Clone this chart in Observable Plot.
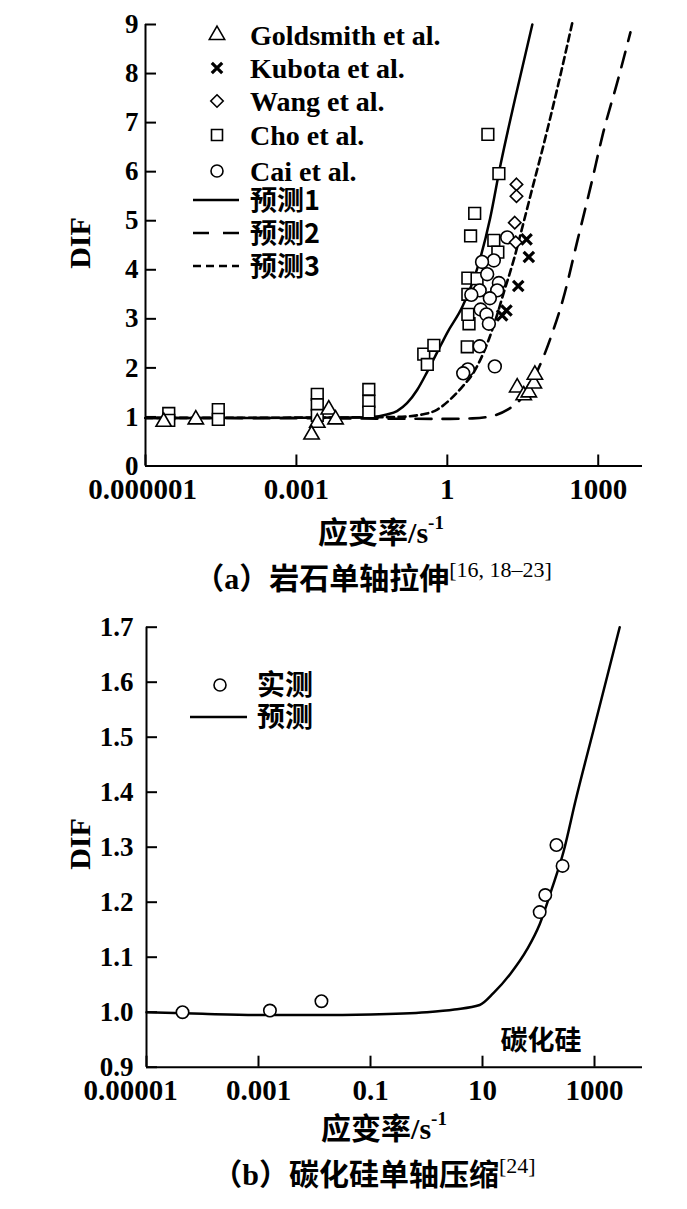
<!DOCTYPE html>
<html><head><meta charset="utf-8">
<script src="https://cdn.jsdelivr.net/npm/d3@7"></script>
<script src="https://cdn.jsdelivr.net/npm/@observablehq/plot@0.6"></script>
<style>
body{margin:0;background:#fff;}
#root{position:relative;width:687px;height:1209px;overflow:hidden;font-family:"Liberation Serif","Noto Sans CJK SC",serif;font-weight:bold;color:#000;background:#fff;}
.abs{position:absolute;white-space:nowrap;line-height:1;transform:translate(-50%,-50%);}
.cjk{font-family:"Noto Sans CJK SC","Liberation Serif",serif;}
sup{font-size:19px;position:relative;top:-2px;vertical-align:top;}
svg{display:block;}
</style></head><body><div id="root"></div>
<script>
// ---------------- Panel (a) data: rock uniaxial tension ----------------
const goldsmithRate = [2.3e-6, 1.0e-5, 2.6e-3, 2.0e-3, 4.4e-3, 6.0e-3, 24.5, 33, 41.7, 52.5, 55];
const goldsmithDIF  = [0.90, 0.95, 0.88, 0.64, 1.15, 0.95, 1.60, 1.44, 1.50, 1.68, 1.86];
const kubotaRate = [37.6, 41.7, 25.7, 15.0, 12.3];
const kubotaDIF  = [4.62, 4.26, 3.67, 3.17, 3.07];
const wangRate = [23.7, 23.7, 21.9, 22.9];
const wangDIF  = [5.74, 5.50, 4.96, 4.56];
const choRate = [2.9e-6, 2.9e-6, 2.8e-5, 2.8e-5, 2.6e-3, 2.6e-3, 2.6e-3, 0.0275, 0.0275, 0.0275, 0.34, 0.40, 0.54, 2.49, 2.7, 2.56, 2.56, 2.56, 3.9, 2.9, 3.5, 6.4, 8.4, 10.1, 10.6];
const choDIF  = [1.07, 0.93, 1.15, 0.95, 1.46, 1.25, 1.03, 1.56, 1.32, 1.10, 2.28, 2.07, 2.46, 2.43, 2.90, 3.09, 3.50, 3.83, 3.82, 4.69, 5.15, 6.76, 4.60, 4.36, 5.96];
const caiRate = [15.5, 8.4, 4.9, 6.2, 10.6, 4.4, 3.0, 9.8, 7.0, 4.6, 6.0, 6.7, 4.4, 2.56, 2.07, 8.8];
const caiDIF  = [4.66, 4.19, 4.16, 3.91, 3.73, 3.58, 3.49, 3.58, 3.42, 3.19, 3.09, 2.90, 2.44, 1.97, 1.89, 2.03];

const pred1Rate = [1e-6, 1e-4, 0.01, 0.0316, 0.063, 0.1, 0.158, 0.251, 0.398, 0.631, 1, 2, 4, 7.1, 11.2, 22.4, 49];
const pred1DIF  = [0.98, 0.98, 0.99, 1.0, 1.05, 1.12, 1.28, 1.55, 1.92, 2.32, 2.72, 3.25, 4.05, 5.05, 6.1, 7.5, 9.0];
const pred2Rate = [1e-6, 0.01, 1, 3.16, 7.9, 15.8, 28.2, 50.1, 81.3, 126, 200, 389, 708, 1259, 2512, 4365];
const pred2DIF  = [0.98, 0.97, 0.96, 0.97, 1.02, 1.15, 1.35, 1.75, 2.22, 2.75, 3.4, 4.61, 5.7, 6.8, 7.9, 8.84];
const pred3Rate = [1e-6, 0.01, 0.1, 0.316, 0.631, 1.12, 2.0, 3.3, 6.3, 9.1, 13.2, 20.9, 33.1, 50.1, 77.6, 158, 309];
const pred3DIF  = [0.98, 0.99, 1.0, 1.05, 1.15, 1.35, 1.62, 1.9, 2.51, 2.98, 3.53, 4.2, 4.98, 5.7, 6.45, 7.75, 9.06];

const xTicksA = [1e-6, 1e-3, 1, 1000];
const xTickLabelsA = ["0.000001", "0.001", "1", "1000"];
const yTicksA = [0, 1, 2, 3, 4, 5, 6, 7, 8, 9];
const yTickLabelsA = ["0", "1", "2", "3", "4", "5", "6", "7", "8", "9"];

// ---------------- Panel (b) data: SiC uniaxial compression ----------------
const measRate = [4.4e-5, 1.6e-3, 0.0133, 105, 132, 209, 269];
const measDIF  = [1.0, 1.003, 1.02, 1.182, 1.213, 1.304, 1.266];
const predBRate = [1e-5, 1e-4, 1e-3, 0.01, 0.1, 1, 3.16, 8.9, 15.8, 31.6, 63.1, 105, 174, 282, 457, 1000, 1778, 2818];
const predBDIF  = [1.0, 0.997, 0.995, 0.995, 0.996, 1.0, 1.005, 1.013, 1.035, 1.07, 1.115, 1.16, 1.225, 1.293, 1.384, 1.52, 1.62, 1.70];

const xTicksB = [1e-5, 1e-3, 0.1, 10, 1000];
const xTickLabelsB = ["0.00001", "0.001", "0.1", "10", "1000"];
const yTicksB = [0.9, 1.0, 1.1, 1.2, 1.3, 1.4, 1.5, 1.6, 1.7];
const yTickLabelsB = ["0.9", "1.0", "1.1", "1.2", "1.3", "1.4", "1.5", "1.6", "1.7"];

const FONT = '"Liberation Serif","Noto Sans CJK SC",serif';
const zip = (xs, ys) => xs.map((x, i) => ({x, y: ys[i]}));
const root = document.getElementById("root");

function frameMarks(o) {
  const innerW = o.width - o.marginLeft - o.marginRight;
  const innerH = o.height - o.marginTop - o.marginBottom;
  const xfmt = d => o.xLabels[o.xTicks.findIndex(t => Math.abs(t - d) / t < 1e-6)];
  const yfmt = d => o.yLabels[o.yTicks.findIndex(t => Math.abs(t - d) < 1e-6)];
  return [
    Plot.ruleY([o.yDomain[0]], {strokeWidth: 2}),
    Plot.ruleX([o.xDomain[0]], {strokeWidth: 2}),
    Plot.tickX(o.xTicks, {x: d => d, insetTop: innerH - 11, strokeWidth: 2}),
    Plot.tickY(o.yTicks, {y: d => d, insetRight: innerW - 11, strokeWidth: 2}),
    Plot.axisX({ticks: o.xTicks.slice(0, 1), tickSize: 0, tickPadding: 12, label: null, fontSize: 29, dx: o.firstDx, tickFormat: xfmt}),
    Plot.axisX({ticks: o.xTicks.slice(1), tickSize: 0, tickPadding: 12, label: null, fontSize: 29, tickFormat: xfmt}),
    Plot.axisY({ticks: o.yTicks, tickSize: 0, tickPadding: o.yPad, label: null, fontSize: 27, tickFormat: yfmt})
  ];
}

// ---------------- Panel (a) ----------------
const optA = {width: 687, height: 600, marginLeft: 145, marginRight: 45, marginTop: 24, marginBottom: 134.5,
  xDomain: [1e-6, Math.pow(10, 3.88)], yDomain: [0, 9], xTicks: xTicksA, yTicks: yTicksA,
  xLabels: xTickLabelsA, yLabels: yTickLabelsA, firstDx: -3, yPad: 7};
const mk = {fill: "white", stroke: "black", strokeWidth: 1.6};
const plotA = Plot.plot({
  width: optA.width, height: optA.height,
  marginLeft: optA.marginLeft, marginRight: optA.marginRight, marginTop: optA.marginTop, marginBottom: optA.marginBottom,
  x: {type: "log", domain: optA.xDomain},
  y: {domain: optA.yDomain},
  style: {fontFamily: FONT, fontWeight: "bold", color: "black", background: "transparent", overflow: "visible"},
  marks: [
    ...frameMarks(optA),
    Plot.line(zip(pred1Rate, pred1DIF), {x: "x", y: "y", curve: "monotone-x", strokeWidth: 2.5}),
    Plot.line(zip(pred2Rate, pred2DIF), {x: "x", y: "y", curve: "monotone-x", strokeWidth: 2.6, strokeDasharray: "16,11"}),
    Plot.line(zip(pred3Rate, pred3DIF), {x: "x", y: "y", curve: "monotone-x", strokeWidth: 2.6, strokeDasharray: "7,4.5"}),
    Plot.dot(zip(choRate, choDIF), {x: "x", y: "y", symbol: "square", r: 6.6, ...mk}),
    Plot.dot(zip(caiRate, caiDIF), {x: "x", y: "y", symbol: "circle", r: 6.4, ...mk}),
    Plot.dot(zip(goldsmithRate, goldsmithDIF), {x: "x", y: "y", symbol: "triangle", r: 5.7, ...mk}),
    Plot.dot(zip(wangRate, wangDIF), {x: "x", y: "y", symbol: "diamond2", r: 5.6, ...mk}),
    Plot.dot(zip(kubotaRate, kubotaDIF), {x: "x", y: "y", symbol: "times", r: 4.8, stroke: "black", strokeWidth: 3.2})
  ]
});
plotA.style.position = "absolute"; plotA.style.left = "0px"; plotA.style.top = "0px";
root.appendChild(plotA);

// ---------------- Panel (b) ----------------
const optB = {width: 687, height: 609, marginLeft: 146, marginRight: 45, marginTop: 26.7, marginBottom: 142.3,
  xDomain: [1e-5, Math.pow(10, 3.857)], yDomain: [0.9, 1.7], xTicks: xTicksB, yTicks: yTicksB,
  xLabels: xTickLabelsB, yLabels: yTickLabelsB, firstDx: -16, yPad: 13};
const plotB = Plot.plot({
  width: optB.width, height: optB.height,
  marginLeft: optB.marginLeft, marginRight: optB.marginRight, marginTop: optB.marginTop, marginBottom: optB.marginBottom,
  x: {type: "log", domain: optB.xDomain},
  y: {domain: optB.yDomain},
  style: {fontFamily: FONT, fontWeight: "bold", color: "black", background: "transparent", overflow: "visible"},
  marks: [
    ...frameMarks(optB),
    Plot.line(zip(predBRate, predBDIF), {x: "x", y: "y", curve: "monotone-x", strokeWidth: 2.5}),
    Plot.dot(zip(measRate, measDIF), {x: "x", y: "y", symbol: "circle", r: 6.2, ...mk})
  ]
});
plotB.style.position = "absolute"; plotB.style.left = "0px"; plotB.style.top = "600px";
root.appendChild(plotB);

// ---------------- Texts ----------------
function label(html, x, y, css = "") {
  const d = document.createElement("div");
  d.className = "abs"; d.innerHTML = html;
  d.style.left = x + "px"; d.style.top = y + "px";
  d.style.cssText += css;
  root.appendChild(d);
  return d;
}
label("DIF", 80, 243, "font-size:30px;transform:translate(-50%,-50%) rotate(-90deg);");
label("DIF", 80, 844, "font-size:30px;transform:translate(-50%,-50%) rotate(-90deg);");
label('<span class="cjk">应变率</span>/s<sup>-1</sup>', 381, 531, "font-size:30px;");
label('<span class="cjk">应变率</span>/s<sup>-1</sup>', 384, 1127, "font-size:30px;");
label('<span class="cjk">（</span>a<span class="cjk">）岩石单轴拉伸</span><sup style="font-weight:normal;font-size:22px">[16, 18–23]</sup>', 373, 577, "font-size:30px;");
label('<span class="cjk">（</span>b<span class="cjk">）碳化硅单轴压缩</span><sup style="font-weight:normal;font-size:22px">[24]</sup>', 374, 1173, "font-size:30px;");
label('<span class="cjk">碳化硅</span>', 541, 1040, "font-size:27px;");

// ---------------- Legends ----------------
function legendSvg(top, height) {
  return d3.select(root).append("svg")
    .attr("width", 687).attr("height", height)
    .style("position", "absolute").style("left", "0px").style("top", top + "px")
    .style("font-family", FONT).style("font-weight", "bold");
}
const legA = legendSvg(0, 300);
const symItems = [
  {label: "Goldsmith et al.", type: d3.symbolTriangle, r: 5.7},
  {label: "Kubota et al.", type: d3.symbolTimes, r: 4.8, times: true},
  {label: "Wang et al.", type: d3.symbolDiamond2, r: 5.6},
  {label: "Cho et al.", type: d3.symbolSquare, r: 6.2},
  {label: "Cai et al.", type: d3.symbolCircle, r: 6}
];
const symRows = [35, 68, 101, 135, 171];
symItems.forEach((it, i) => {
  legA.append("path")
    .attr("d", d3.symbol(it.type, Math.PI * it.r * it.r)())
    .attr("transform", `translate(217,${symRows[i]})`)
    .attr("fill", it.times ? "none" : "white").attr("stroke", "black")
    .attr("stroke-width", it.times ? 3.2 : 1.6);
  legA.append("text").attr("x", 250).attr("y", symRows[i]).attr("dy", "0.35em")
    .attr("font-size", 28).text(it.label);
});
const lineItems = [
  {label: "预测1", dash: null},
  {label: "预测2", dash: "16,14"},
  {label: "预测3", dash: "8,5"}
];
const lineRows = [200, 233, 266];
lineItems.forEach((it, i) => {
  legA.append("line").attr("x1", 193).attr("x2", 239).attr("y1", lineRows[i]).attr("y2", lineRows[i])
    .attr("stroke", "black").attr("stroke-width", 2.6).attr("stroke-dasharray", it.dash);
  legA.append("text").attr("x", 250).attr("y", lineRows[i]).attr("dy", "0.36em")
    .attr("font-size", 27).attr("font-family", '"Noto Sans CJK SC",serif').text(it.label);
});

const legB = legendSvg(600, 150);
legB.append("circle").attr("cx", 220).attr("cy", 85).attr("r", 6)
  .attr("fill", "white").attr("stroke", "black").attr("stroke-width", 1.6);
legB.append("text").attr("x", 257).attr("y", 85).attr("dy", "0.36em").attr("font-size", 28)
  .attr("font-family", '"Noto Sans CJK SC",serif').text("实测");
legB.append("line").attr("x1", 190).attr("x2", 247).attr("y1", 117).attr("y2", 117)
  .attr("stroke", "black").attr("stroke-width", 2.5);
legB.append("text").attr("x", 257).attr("y", 117).attr("dy", "0.36em").attr("font-size", 28)
  .attr("font-family", '"Noto Sans CJK SC",serif').text("预测");
</script>
</body></html>
